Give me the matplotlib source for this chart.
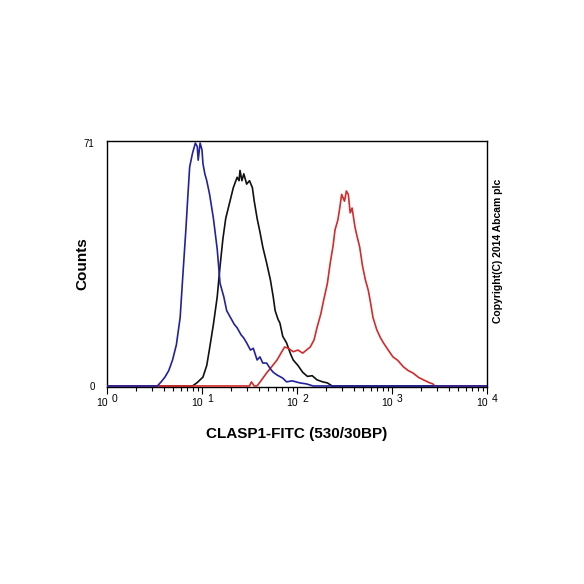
import numpy as np
import matplotlib
matplotlib.use("Agg")
import matplotlib.pyplot as plt

# ── Histogram data (log10 of fluorescence, counts) ─────────────────────────────
blue_log = [0.0, 0.53, 0.57, 0.61, 0.65, 0.69, 0.73, 0.77, 0.80, 0.83, 0.85, 0.87,
            0.90, 0.93, 0.95, 0.96, 0.98, 1.00, 1.01, 1.03, 1.05, 1.08, 1.12, 1.16,
            1.19, 1.23, 1.26, 1.30, 1.34, 1.37, 1.41, 1.44, 1.47, 1.51, 1.54, 1.58,
            1.61, 1.64, 1.68, 1.72, 1.75, 1.79, 1.85, 1.89, 1.95, 2.03, 2.10, 2.17, 4.0]
blue_cnt = [0, 0, 1.2, 2.6, 4.5, 7.6, 12, 20, 33, 45.6, 55, 64,
            68, 71, 70, 66, 71, 69, 65, 62, 60, 56, 49, 40,
            30, 26, 22, 20, 18, 17, 15, 14, 12.6, 10.5, 11, 7.6,
            8.5, 6.7, 6.7, 5, 4, 3.2, 2.3, 1.2, 1.5, 0.9, 0.6, 0, 0]

black_log = [0.0, 0.90, 0.95, 1.01, 1.05, 1.08, 1.12, 1.16, 1.19, 1.22, 1.25, 1.29,
             1.33, 1.37, 1.39, 1.40, 1.42, 1.44, 1.47, 1.50, 1.53, 1.55, 1.58, 1.61,
             1.64, 1.68, 1.72, 1.75, 1.77, 1.80, 1.82, 1.85, 1.89, 1.93, 1.96, 2.01,
             2.06, 2.11, 2.16, 2.21, 2.27, 2.32, 2.37, 4.0]
black_cnt = [0, 0, 1.0, 2.6, 6, 11, 18, 26, 35, 43, 49, 53.5,
             58, 61, 60, 63, 60, 62, 59, 60, 58, 54, 49, 45,
             40.6, 36, 31, 26, 22, 19.5, 18.4, 14.5, 12.6, 9.5, 7.6, 6,
             4, 2.8, 3, 1.8, 1.2, 0.9, 0, 0]

red_log = [0.0, 1.50, 1.52, 1.55, 1.58, 1.62, 1.68, 1.73, 1.79, 1.84, 1.87, 1.91,
           1.96, 2.01, 2.06, 2.10, 2.14, 2.18, 2.21, 2.25, 2.28, 2.32, 2.35, 2.38,
           2.40, 2.43, 2.45, 2.47, 2.50, 2.52, 2.54, 2.56, 2.58, 2.61, 2.63, 2.66,
           2.69, 2.72, 2.75, 2.77, 2.80, 2.84, 2.88, 2.91, 2.96, 3.01, 3.06, 3.12,
           3.17, 3.22, 3.28, 3.33, 3.39, 3.43, 3.45, 4.0]
red_cnt = [0, 0, 1.2, 0, 0, 1.5, 3.8, 5.5, 7.6, 10, 11.4, 11,
           10, 10.5, 9.6, 10.5, 11.4, 13.5, 17, 21, 25, 30, 36, 41,
           45.6, 48.5, 52, 56, 54, 57, 56, 50.6, 52, 46.5, 44, 40.6,
           35, 31, 28, 25, 20, 16.4, 14, 12.6, 10.5, 8.5, 7.5, 5.6,
           4.5, 3.8, 2.5, 1.8, 1.0, 0.6, 0, 0]

xlabel = "CLASP1-FITC (530/30BP)"
ylabel = "Counts"
ytick_vals = [0, 71]
decades = [0, 1, 2, 3, 4]

plt.rcParams['font.family'] = ['Liberation Sans', 'DejaVu Sans']

fig = plt.figure(figsize=(5.84, 5.84), dpi=100, facecolor='white')
ax = fig.add_axes([107 / 584, 1 - 387 / 584, 380 / 584, 246 / 584])

ax.plot(10 ** np.array(black_log), black_cnt, color='#111111', lw=1.2, zorder=3)
ax.plot(10 ** np.array(red_log), red_cnt, color='#d42a2a', lw=1.2, zorder=4)
ax.plot(10 ** np.array(blue_log), blue_cnt, color='#22229e', lw=1.2, zorder=5)

ax.set_xscale('log')
ax.set_xlim(1, 1e4)
ax.set_ylim(-0.3, 71.6)

for sp in ax.spines.values():
    sp.set_linewidth(1.0)
    sp.set_color('black')

# y ticks: just 0 and 71
ax.set_yticks(ytick_vals)
ax.set_yticklabels([str(v) for v in ytick_vals], fontsize=7)
ax.tick_params(axis='y', length=0, pad=9)

# x ticks: decade labels drawn by hand as "10" + raised exponent
ax.set_xticks([10 ** d for d in decades])
ax.set_xticklabels([])
ax.tick_params(axis='x', which='major', direction='out', length=5, width=0.8)
ax.tick_params(axis='x', which='minor', direction='out', length=3, width=0.8)
for d in decades:
    ax.text(10 ** d * 1.01, -0.045, "10", transform=ax.get_xaxis_transform(),
            ha='right', va='top', fontsize=7.5)
    ax.text(10 ** d * 1.13, -0.03, str(d), transform=ax.get_xaxis_transform(),
            ha='left', va='top', fontsize=7.5)

ax.set_xlabel(xlabel, fontsize=11, fontweight='bold', labelpad=20)
ax.set_ylabel(ylabel, fontsize=11, fontweight='bold')
ax.yaxis.set_label_coords(-0.047, 0.5)

fig.text(498 / 584, 1 - 251 / 584, "Copyright(C) 2014 Abcam plc", rotation=90,
         ha='center', va='center', fontsize=7.5, fontweight='bold')

fig.savefig("out.png", dpi=100, facecolor='white')
